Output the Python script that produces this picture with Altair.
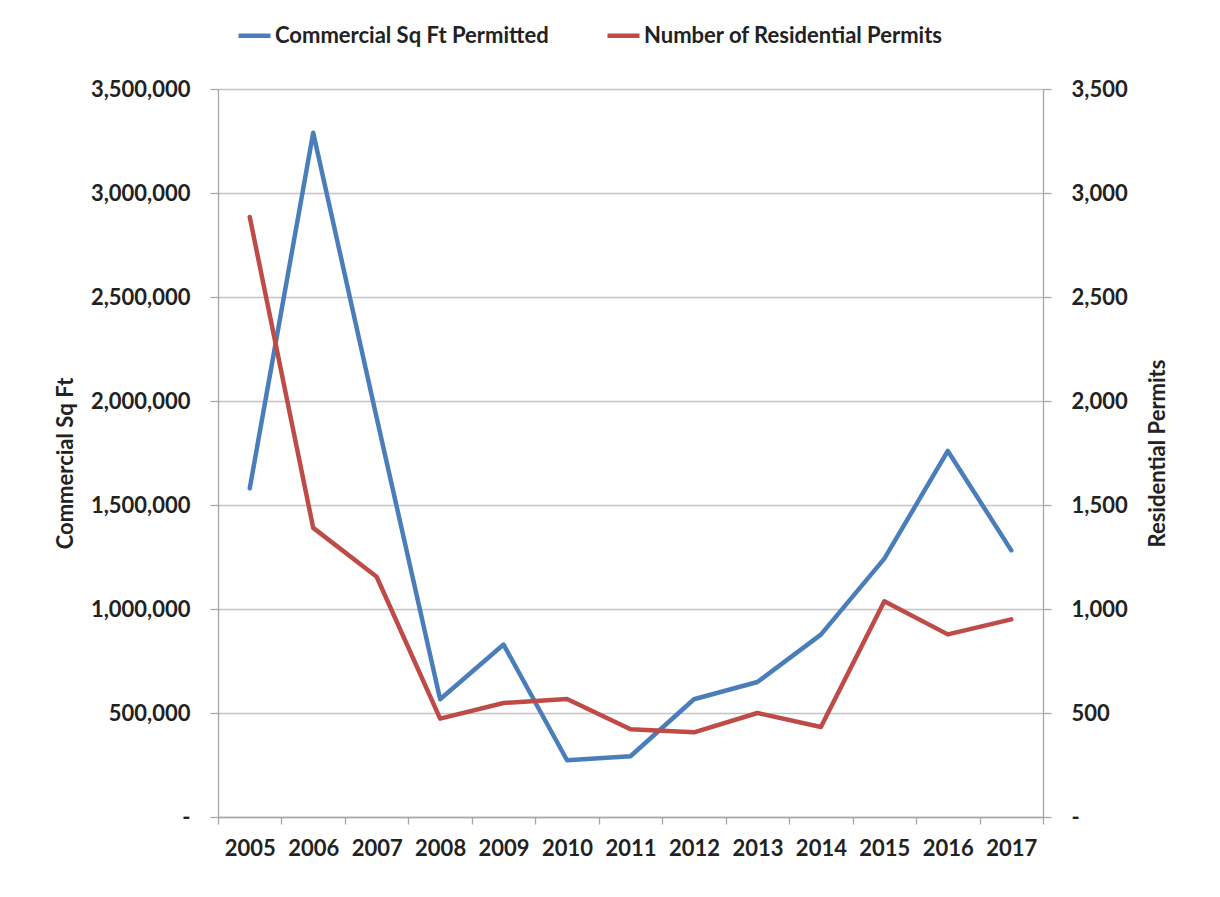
import altair as alt
import pandas as pd

# Permit activity by year
years = ["2005", "2006", "2007", "2008", "2009", "2010", "2011",
         "2012", "2013", "2014", "2015", "2016", "2017"]
commercial_sqft = [1580000, 3290000, 1920000, 566000, 829000, 273000, 292000,
                   566000, 649000, 877000, 1242000, 1760000, 1282000]
residential_permits = [2885, 1390, 1155, 473, 548, 567, 422,
                       407, 500, 433, 1037, 878, 950]

series_names = ["Commercial Sq Ft Permitted", "Number of Residential Permits"]
series_colors = ["#4A7EBB", "#BE4B48"]

left_ticks = [0, 500000, 1000000, 1500000, 2000000, 2500000, 3000000, 3500000]
right_ticks = [0, 500, 1000, 1500, 2000, 2500, 3000, 3500]

comm_df = pd.DataFrame({"year": years, "value": commercial_sqft, "series": series_names[0]})
res_df = pd.DataFrame({"year": years, "value": residential_permits, "series": series_names[1]})

FONT = "Lato"
TEXT = "#222222"

color_scale = alt.Scale(domain=series_names, range=series_colors)

legend = alt.Legend(
    title=None,
    orient="none",
    legendX=18,
    legendY=-72,
    direction="horizontal",
    symbolType="stroke",
    symbolSize=1024,
    symbolStrokeWidth=4.5,
    labelFont=FONT,
    labelFontSize=22,
    labelFontWeight="bold",
    labelColor=TEXT,
    labelOffset=2,
    labelLimit=500,
    columnPadding=49,
)

x_enc = alt.X(
    "year:O",
    bandPosition=0.5,
    sort=years,
    scale=alt.Scale(type="band", paddingInner=0, paddingOuter=0),
    axis=alt.Axis(
        title=None,
        labelAngle=0,
        tickBand="extent",
        tickSize=7,
        labelPadding=14,
        grid=False,
    ),
)

line_style = dict(strokeWidth=4.5, strokeCap="round", strokeJoin="round")

commercial = alt.Chart(comm_df).mark_line(**line_style).encode(
    x=x_enc,
    y=alt.Y(
        "value:Q",
        scale=alt.Scale(domain=[0, 3500000], nice=False, zero=True),
        axis=alt.Axis(
            orient="left",
            values=left_ticks,
            labelExpr="datum.value == 0 ? '-\u00a0\u00a0' : format(datum.value, ',')",
            title="Commercial Sq Ft",
            titleAngle=270,
            titleAlign="center",
            titleBaseline="middle",
            titleX=-153,
            titleY=374,
            grid=True,
            tickSize=8,
            labelPadding=20,
        ),
    ),
    color=alt.Color("series:N", scale=color_scale, legend=legend),
)

residential = alt.Chart(res_df).mark_line(**line_style).encode(
    x=x_enc,
    y=alt.Y(
        "value:Q",
        scale=alt.Scale(domain=[0, 3500], nice=False, zero=True),
        axis=alt.Axis(
            orient="right",
            values=right_ticks,
            labelExpr="datum.value == 0 ? '-' : format(datum.value, ',')",
            title="Residential Permits",
            titleAngle=270,
            titleAlign="center",
            titleBaseline="middle",
            titleX=114,
            titleY=364,
            grid=False,
            tickSize=8,
            labelPadding=20,
        ),
    ),
    color=alt.Color("series:N", scale=color_scale, legend=legend),
)

chart = (
    alt.layer(commercial, residential)
    .resolve_scale(y="independent")
    .properties(
        width=825,
        height=728,
        autosize="none",
        padding={"left": 218, "top": 89, "right": 177, "bottom": 80},
        background="white",
    )
    .configure_view(stroke=None)
    .configure_axis(
        labelFont=FONT,
        labelFontSize=22,
        labelFontWeight="bold",
        labelColor=TEXT,
        titleFont=FONT,
        titleFontSize=22,
        titleFontWeight="bold",
        titleColor=TEXT,
        domainColor="#A6A6A6",
        tickColor="#A6A6A6",
        gridColor="#C4C4C4",
        domainWidth=1.3,
        tickWidth=1.3,
        gridWidth=1.3,
    )
)

chart.save("out.html", embed_options={"renderer": "svg", "actions": False})
